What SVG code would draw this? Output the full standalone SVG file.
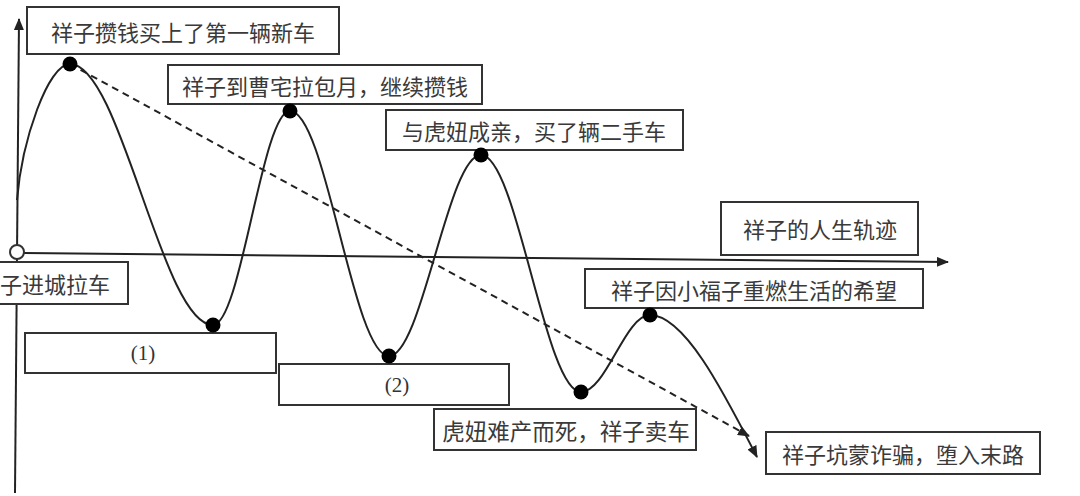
<svg xmlns="http://www.w3.org/2000/svg" width="1080" height="496" viewBox="0 0 1080 496">
  <defs>
    <marker id="arr" viewBox="0 0 12 10" refX="11" refY="5" markerWidth="12" markerHeight="10" markerUnits="userSpaceOnUse" orient="auto">
      <path d="M0,0 L12,5 L0,10 Z" fill="#222"/>
    </marker>
    <style>
      .box { fill: #fff; stroke: #333; stroke-width: 2; }
      .lbl { font-family: "Noto Sans CJK SC", "Noto Sans", sans-serif; font-size: 22px; fill: #3a3a3a; dominant-baseline: central; text-anchor: middle; }
      .num { font-family: "Liberation Serif", serif; font-size: 21px; fill: #333; dominant-baseline: central; text-anchor: middle; }
      .ln { fill: none; stroke: #222; stroke-width: 2; }
      .dot { fill: #000; }
    </style>
  </defs>
  <rect width="1080" height="496" fill="#fff"/>

  <g id="connectors">
    <line id="axis-y" class="ln" x1="15" y1="493" x2="19" y2="19" marker-end="url(#arr)"/>
    <line id="axis-x" class="ln" x1="24" y1="253" x2="948" y2="262" marker-end="url(#arr)"/>
    <line id="trend" class="ln" x1="70" y1="64" x2="749" y2="436" stroke-dasharray="7 5" marker-end="url(#arr)"/>
    <path id="life-curve" class="ln" d="M17,200 C22,140 48,64 70,64 C121,64 162,325 213,325 C241,325 262,111 290,111 C326,111 353,356 389,356 C422,356 448,155 481,155 C517,155 545,392 581,392 C606,392 625,315 650,315 C685,315 725,395 757,457" marker-end="url(#arr)"/>
  </g>

  <g id="start">
    <circle cx="17" cy="252" r="7" fill="#fff" stroke="#333" stroke-width="2"/>
    <rect class="box" x="-2" y="262" width="130" height="42"/>
    <text x="0" y="283" class="lbl" style="text-anchor:start">子进城拉车</text>
  </g>

  <g id="peak1">
    <rect class="box" x="27" y="7" width="312" height="47"/>
    <text x="183" y="31" class="lbl">祥子攒钱买上了第一辆新车</text>
    <circle class="dot" cx="70" cy="64" r="7.5"/>
  </g>

  <g id="trough1">
    <rect class="box" x="25" y="333" width="251" height="40"/>
    <text x="143" y="353" class="num">(1)</text>
    <circle class="dot" cx="213" cy="325" r="7.5"/>
  </g>

  <g id="peak2">
    <rect class="box" x="168" y="65" width="314" height="39"/>
    <text x="325" y="85" class="lbl">祥子到曹宅拉包月，继续攒钱</text>
    <circle class="dot" cx="290" cy="111" r="7.5"/>
  </g>

  <g id="trough2">
    <rect class="box" x="279" y="364" width="230" height="41"/>
    <text x="397" y="385" class="num">(2)</text>
    <circle class="dot" cx="389" cy="356" r="7.5"/>
  </g>

  <g id="peak3">
    <rect class="box" x="386" y="110" width="297" height="40"/>
    <text x="534" y="130" class="lbl">与虎妞成亲，买了辆二手车</text>
    <circle class="dot" cx="481" cy="155" r="7.5"/>
  </g>

  <g id="axis-label">
    <rect class="box" x="721" y="202" width="197" height="53"/>
    <text x="820" y="228" class="lbl">祥子的人生轨迹</text>
  </g>

  <g id="trough3">
    <rect class="box" x="434" y="409" width="262" height="41"/>
    <text x="566" y="430" class="lbl" style="font-size:22.5px">虎妞难产而死，祥子卖车</text>
    <circle class="dot" cx="581" cy="392" r="7.5"/>
  </g>

  <g id="peak4">
    <rect class="box" x="585" y="269" width="338" height="39"/>
    <text x="754" y="289" class="lbl">祥子因小福子重燃生活的希望</text>
    <circle class="dot" cx="650" cy="315" r="7.5"/>
  </g>

  <g id="end">
    <rect class="box" x="766" y="432" width="274" height="42"/>
    <text x="903" y="453" class="lbl">祥子坑蒙诈骗，堕入末路</text>
  </g>
</svg>
